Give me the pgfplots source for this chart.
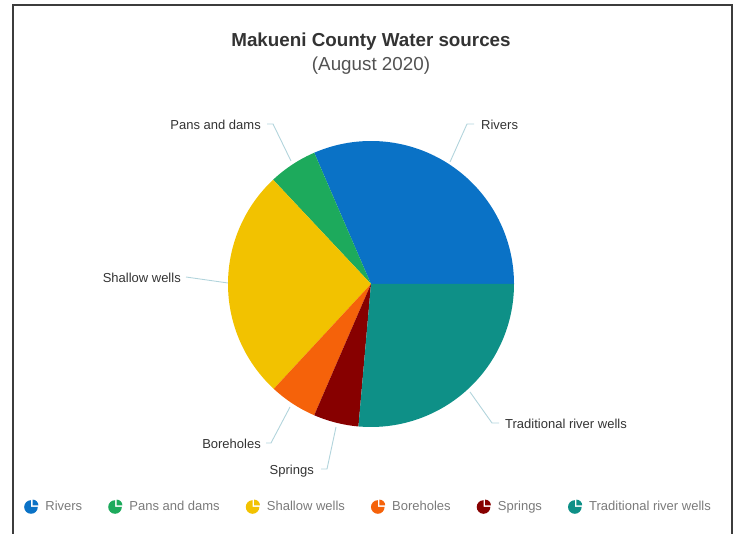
\documentclass[border=0pt]{standalone}
\usepackage{pgfplots}
\pgfplotsset{compat=1.18}
\usepackage{fontspec}
\setmainfont{Liberation Sans}
\definecolor{cRivers}{HTML}{0A72C6}
\definecolor{cPans}{HTML}{1DAA5C}
\definecolor{cShallow}{HTML}{F2C200}
\definecolor{cBore}{HTML}{F5620A}
\definecolor{cSpring}{HTML}{870000}
\definecolor{cTrad}{HTML}{0E9087}
\definecolor{leader}{HTML}{B2D4DC}
\definecolor{labtext}{HTML}{333333}
\definecolor{legtext}{HTML}{7A7A7A}
\definecolor{frame}{HTML}{3C3C3C}

% slice values (percent of water sources)
\def\vA{31.5}% Rivers
\def\vB{5.5}%  Pans and dams
\def\vC{26.1}% Shallow wells
\def\vD{5.4}%  Boreholes
\def\vE{5.1}%  Springs
\def\vF{26.4}% Traditional river wells
\pgfmathsetmacro\tot{\vA+\vB+\vC+\vD+\vE+\vF}
\pgfmathsetmacro\aA{0}
\pgfmathsetmacro\aB{\aA+360*\vA/\tot}
\pgfmathsetmacro\aC{\aB+360*\vB/\tot}
\pgfmathsetmacro\aD{\aC+360*\vC/\tot}
\pgfmathsetmacro\aE{\aD+360*\vD/\tot}
\pgfmathsetmacro\aF{\aE+360*\vE/\tot}
\pgfmathsetmacro\aG{\aF+360*\vF/\tot}

\begin{document}
\begin{tikzpicture}[
  lab/.style={font=\fontsize{13bp}{15bp}\selectfont, text=labtext, inner sep=0pt},
  ld/.style={draw=leader, line width=0.9bp},
]
\begin{axis}[
  x=1bp, y=1bp,
  xmin=0, xmax=737, ymin=0, ymax=534,
  hide axis, clip=false,
  samples=90,
  legend image code/.code={
    \fill[#1] (0bp,0bp) -- (0:6.8bp) arc[start angle=0,end angle=-270,radius=6.8bp] -- cycle;
    \fill[#1] (1.6bp,1.6bp) -- ++(0:5.8bp) arc[start angle=0,end angle=90,radius=5.8bp] -- cycle;
  },
  legend columns=6,
  legend cell align=left,
  legend style={at={(axis cs:368.5,27)}, anchor=center, draw=none, fill=none,
    font=\fontsize{13bp}{15bp}\selectfont, text=legtext,
    /tikz/every even column/.append style={column sep=24bp},
    /tikz/every odd column/.append style={column sep=5bp},
    nodes={inner sep=2bp}},
]
\path (axis cs:0,0) rectangle (axis cs:737,534);

\addplot[fill=cRivers, draw=none, domain=\aA:\aB] ({371+143*cos(x)},{250+143*sin(x)}) -- (axis cs:371,250) -- cycle;
\addlegendentry{Rivers}
\addplot[fill=cPans, draw=none, domain=\aB:\aC] ({371+143*cos(x)},{250+143*sin(x)}) -- (axis cs:371,250) -- cycle;
\addlegendentry{Pans and dams}
\addplot[fill=cShallow, draw=none, domain=\aC:\aD] ({371+143*cos(x)},{250+143*sin(x)}) -- (axis cs:371,250) -- cycle;
\addlegendentry{Shallow wells}
\addplot[fill=cBore, draw=none, domain=\aD:\aE] ({371+143*cos(x)},{250+143*sin(x)}) -- (axis cs:371,250) -- cycle;
\addlegendentry{Boreholes}
\addplot[fill=cSpring, draw=none, domain=\aE:\aF] ({371+143*cos(x)},{250+143*sin(x)}) -- (axis cs:371,250) -- cycle;
\addlegendentry{Springs}
\addplot[fill=cTrad, draw=none, domain=\aF:\aG] ({371+143*cos(x)},{250+143*sin(x)}) -- (axis cs:371,250) -- cycle;
\addlegendentry{Traditional river wells}

% leader lines
\addplot[ld, forget plot] coordinates {(450,372) (467,410) (474,410)};
\addplot[ld, forget plot] coordinates {(291,373) (273,410) (267,410)};
\addplot[ld, forget plot] coordinates {(228,251) (186,257)};
\addplot[ld, forget plot] coordinates {(290,127) (271,91) (266,91)};
\addplot[ld, forget plot] coordinates {(336,107) (327,65) (321,65)};
\addplot[ld, forget plot] coordinates {(470,142) (492,111) (499,111)};

% slice labels
\node[lab, anchor=mid west] at (axis cs:481,407) {Rivers};
\node[lab, anchor=mid east] at (axis cs:261,407) {Pans and dams};
\node[lab, anchor=mid east] at (axis cs:181,254) {Shallow wells};
\node[lab, anchor=mid east] at (axis cs:261,88) {Boreholes};
\node[lab, anchor=mid east] at (axis cs:314,62) {Springs};
\node[lab, anchor=mid west] at (axis cs:505,108) {Traditional river wells};

% title
\node[font=\bfseries\fontsize{18.8bp}{22bp}\selectfont, text=labtext] at (axis cs:371,492) {Makueni County Water sources};
\node[font=\fontsize{18.8bp}{22bp}\selectfont, text=labtext!85] at (axis cs:371,468) {(August 2020)};

% frame
\draw[frame, line width=2.4bp] (axis cs:13,0) -- (axis cs:13,529) -- (axis cs:732,529) -- (axis cs:732,0);
\end{axis}
\end{tikzpicture}
\end{document}
